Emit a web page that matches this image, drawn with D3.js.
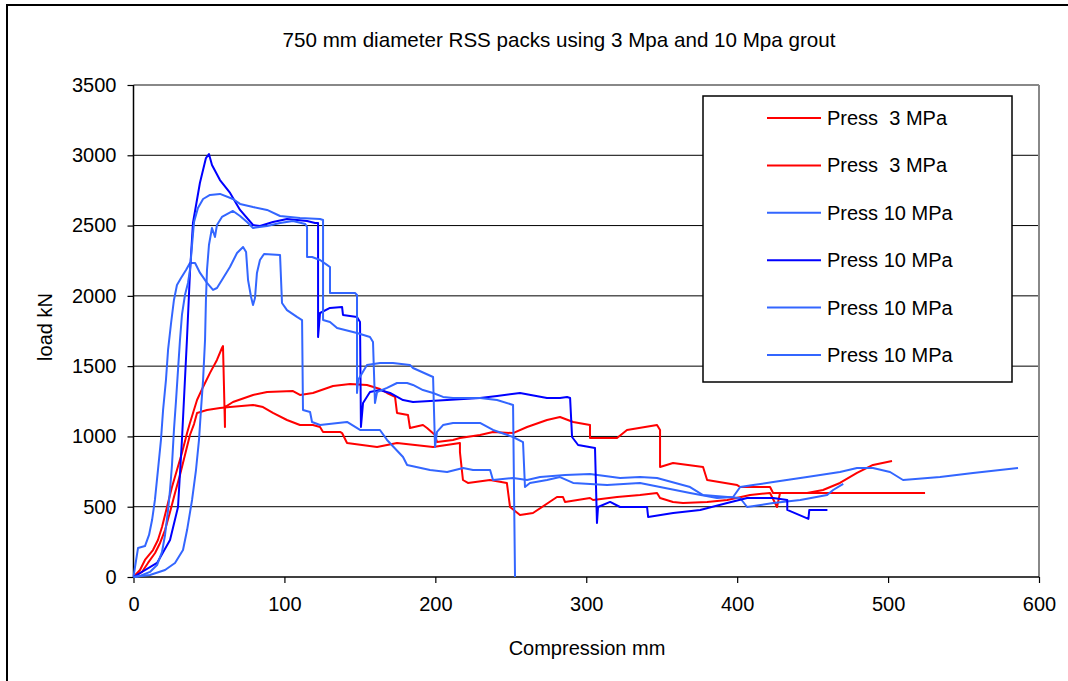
<!DOCTYPE html>
<html>
<head>
<meta charset="utf-8">
<script src="https://cdn.jsdelivr.net/npm/d3@7"></script>
<style>
  html, body { margin: 0; padding: 0; background: #fff; }
  svg text { font-family: "Liberation Sans", Arial, sans-serif; fill: #000; }
</style>
</head>
<body>
<svg id="chart" width="1068" height="681"></svg>
<script>
// ---------- data (compression mm, load kN) ----------
const title = "750 mm diameter RSS packs using 3 Mpa and 10 Mpa grout";
const xLabel = "Compression mm";
const yLabel = "load kN";
const xTicks = [0, 100, 200, 300, 400, 500, 600];
const yTicks = [0, 500, 1000, 1500, 2000, 2500, 3000, 3500];
const seriesNames = ["Press  3 MPa", "Press  3 MPa", "Press 10 MPa", "Press 10 MPa", "Press 10 MPa", "Press 10 MPa"];
const seriesColors = ["#ff0000", "#ff0000", "#3366ff", "#0000ff", "#3366ff", "#3366ff"];

const red1 = [[0,0],[4.3,50],[7.6,121],[12.9,192],[16.2,263],[18.9,356],[22.2,498],[25.5,640],[28.8,761],[32.1,882],[35.5,1024],[37.4,1096],[42.1,1259],[46.1,1352],[50.7,1452],[55.3,1544],[58.6,1629],[59.3,1643],[60.6,1067],[60.6,1209],[65.9,1245],[79.2,1295],[88.5,1316],[105.7,1323],[110.3,1295],[118.9,1309],[132.2,1359],[143.5,1373],[154.7,1366],[163.3,1337],[168.0,1309],[173.3,1281],[174.6,1167],[181.9,1152],[183.2,1060],[191.8,1081],[194.5,1060],[199.8,1010],[201.1,960],[211.7,975],[216.3,989],[229.6,1010],[238.2,1032],[251.5,1024],[260.8,1067],[274.0,1117],[282.6,1138],[291.3,1103],[302.5,1081],[302.5,989],[320.4,989],[327.0,1046],[346.9,1081],[348.9,1046],[348.9,783],[357.5,811],[377.4,783],[380.1,690],[400.0,654],[402.0,640],[421.8,640],[423.8,598],[524.5,598]];

const red2 = [[0,0],[5.6,36],[9.6,100],[14.3,171],[17.6,242],[20.9,334],[24.2,462],[27.5,597],[30.8,726],[34.1,868],[37.4,1010],[40.1,1088],[42.1,1167],[48.7,1188],[57.3,1202],[63.9,1209],[79.2,1224],[85.8,1209],[92.4,1167],[101.7,1117],[110.3,1081],[118.9,1081],[123.6,1067],[125.6,1032],[136.9,1032],[138.2,1024],[141.5,953],[161.4,925],[174.6,953],[198.5,925],[216.3,953],[216.3,889],[218.3,690],[221.6,669],[236.2,690],[247.4,669],[249.5,498],[256.1,441],[264.7,455],[280.6,569],[284.6,569],[285.9,534],[302.5,562],[304.5,548],[320.4,569],[335.6,583],[346.9,598],[348.9,562],[357.5,534],[364.1,526],[380.1,534],[393.4,548],[408.6,583],[421.8,598],[426.4,498],[428.4,598],[446.3,598],[456.9,619],[468.1,669],[479.4,740],[490.0,797],[502.6,825]];

const blue1 = [[0,0],[1.0,71],[3.0,206],[7.6,220],[10.3,299],[12.3,405],[14.2,548],[16.2,761],[18.2,975],[19.6,1188],[21.5,1401],[22.9,1615],[24.9,1807],[26.8,1971],[28.8,2077],[31.5,2127],[34.8,2184],[37.4,2234],[40.8,2234],[44.1,2163],[48.7,2092],[52.7,2042],[55.3,2056],[58.6,2113],[63.9,2205],[68.6,2305],[72.6,2348],[74.6,2312],[75.9,2113],[77.9,1992],[79.2,1935],[80.5,1985],[81.8,2163],[83.8,2255],[86.5,2298],[97.1,2291],[98.4,1949],[101.7,1899],[108.3,1850],[111.7,1828],[112.3,1188],[117.0,1174],[118.3,1103],[123.6,1081],[135.5,1096],[141.5,1103],[150.1,1046],[163.3,1046],[168.0,975],[178.6,854],[181.3,797],[196.5,761],[207.8,747],[218.4,775],[225.0,761],[236.3,761],[238.2,690],[251.5,704],[260.8,690],[269.4,711],[286.0,726],[302.5,733],[322.4,704],[335.6,711],[346.9,704],[368.8,640],[377.4,583],[401.9,562],[406.6,498],[423.9,526],[441.8,548],[459.6,583],[463.6,619],[470.3,662]];

const darkBlue = [[0,0],[15.6,100],[24.2,263],[29.5,498],[32.1,975],[35.4,1686],[37.4,2163],[39.4,2518],[44.0,2803],[48.0,2980],[50.0,3009],[52.0,2931],[57.3,2824],[64.0,2732],[70.6,2611],[79.2,2504],[83.8,2497],[92.4,2525],[101.7,2547],[115.0,2532],[120.3,2518],[122.3,2518],[122.3,1707],[123.6,1878],[130.2,1914],[138.2,1921],[138.8,1864],[148.1,1850],[150.1,1814],[150.7,1067],[152.1,1238],[156.7,1316],[163.3,1330],[170.0,1309],[178.6,1259],[185.2,1245],[207.8,1259],[229.6,1273],[240.9,1288],[256.1,1309],[274.0,1273],[282.6,1273],[287.3,1280],[289.3,1273],[290.6,996],[294.6,939],[305.8,918],[307.1,384],[307.8,498],[315.8,534],[322.4,498],[340.3,498],[341.0,427],[357.6,455],[375.5,477],[393.4,526],[406.6,562],[423.9,562],[433.2,548],[433.2,477],[447.2,413],[447.8,477],[459.8,477]];

const blue2 = [[0,0],[4.3,7],[10.9,36],[15.6,85],[18.9,178],[20.9,299],[22.9,477],[24.2,619],[25.5,797],[26.8,1046],[28.2,1259],[29.5,1473],[30.8,1686],[32.1,1864],[34.1,2006],[36.1,2092],[37.4,2184],[38.8,2362],[40.1,2525],[42.7,2625],[46.1,2689],[50.7,2718],[57.3,2725],[65.9,2689],[70.6,2654],[79.2,2632],[88.5,2611],[97.1,2568],[110.3,2554],[123.6,2547],[125.6,2540],[125.6,1828],[130.2,1814],[134.9,1771],[148.1,1736],[156.7,1707],[158.7,1672],[160.0,1238],[161.4,1316],[168.0,1345],[174.6,1380],[181.3,1380],[185.2,1366],[191.8,1330],[198.5,1309],[205.1,1281],[211.7,1273],[229.6,1273],[240.9,1259],[251.5,1224],[252.8,0]];

const blue3 = [[0,0],[10.9,14],[20.9,50],[27.5,100],[32.8,192],[35.5,334],[38.8,548],[41.4,761],[43.4,975],[44.7,1188],[46.1,1401],[47.4,1686],[48.0,1971],[48.7,2184],[50.0,2362],[52.0,2483],[54.0,2419],[55.3,2504],[58.6,2561],[65.9,2604],[70.6,2568],[75.2,2525],[79.2,2483],[88.5,2497],[97.1,2518],[105.7,2533],[113.8,2511],[115.0,2490],[115.0,2276],[118.3,2276],[123.6,2255],[128.2,2220],[130.2,2205],[130.2,2020],[146.8,2020],[148.1,2006],[148.1,1309],[148.8,1401],[154.7,1508],[163.3,1522],[171.9,1522],[183.2,1508],[185.2,1487],[198.5,1423],[199.8,925],[201.1,1032],[205.1,1081],[211.7,1096],[229.6,1096],[238.2,1046],[251.5,996],[258.1,960],[259.4,640],[262.7,669],[274.0,690],[282.6,711],[291.3,669],[313.8,654],[335.6,669],[348.9,640],[368.8,598],[386.7,562],[397.3,569],[402.0,640],[410.6,654],[423.9,676],[446.3,711],[468.1,747],[479.4,775],[490.0,775],[501.3,747],[509.9,690],[534.4,711],[556.3,740],[586.1,775]];

const seriesData = [red1, red2, blue1, darkBlue, blue2, blue3];

// ---------- layout ----------
const svg = d3.select("#chart");
const plot = { left: 133.5, right: 1039, top: 85, bottom: 577 };

svg.append("rect").attr("x", 0).attr("y", 0).attr("width", 1068).attr("height", 681).attr("fill", "#fff");
// outer chart frame (extends past the window on right/bottom)
svg.append("rect").attr("x", 7).attr("y", 5).attr("width", 1100).attr("height", 720)
  .attr("fill", "none").attr("stroke", "#000").attr("stroke-width", 2);

const x = d3.scaleLinear().domain([0, 600]).range([plot.left, plot.right]);
const y = d3.scaleLinear().domain([0, 3500]).range([plot.bottom, plot.top]);

// gridlines
svg.append("g").selectAll("line").data(yTicks.filter(d => d > 0)).join("line")
  .attr("x1", plot.left).attr("x2", plot.right)
  .attr("y1", d => y(d)).attr("y2", d => y(d))
  .attr("stroke", d => d === 3500 ? "#888" : "#000")
  .attr("stroke-width", d => d === 3500 ? 2 : 1);
// right plot border
svg.append("line").attr("x1", plot.right).attr("x2", plot.right)
  .attr("y1", plot.top).attr("y2", plot.bottom)
  .attr("stroke", "#888").attr("stroke-width", 2);

// axes
const xAxis = d3.axisBottom(x).tickValues(xTicks).tickSize(6).tickPadding(14).tickFormat(d3.format("d"));
const yAxis = d3.axisLeft(y).tickValues(yTicks).tickSize(6).tickPadding(11).tickFormat(d3.format("d"));
const gx = svg.append("g").attr("transform", `translate(0,${plot.bottom})`).call(xAxis);
const gy = svg.append("g").attr("transform", `translate(${plot.left},0)`).call(yAxis);
[gx, gy].forEach(g => {
  g.select(".domain").attr("stroke", "#000").attr("stroke-width", 1.5);
  g.selectAll(".tick line").attr("stroke", "#000").attr("stroke-width", 1.2);
  g.selectAll(".tick text").attr("font-size", 20).attr("font-family", "Liberation Sans, Arial, sans-serif").attr("fill", "#000");
});
gx.select(".domain").attr("d", `M${plot.left},0H${plot.right}`);
gy.select(".domain").attr("d", `M0,${plot.top}V${plot.bottom}`);

// series lines
const line = d3.line().x(d => x(d[0])).y(d => y(d[1]));
svg.append("g").selectAll("path").data(seriesData).join("path")
  .attr("d", d => line(d))
  .attr("fill", "none")
  .attr("stroke", (d, i) => seriesColors[i])
  .attr("stroke-width", 2)
  .attr("stroke-linejoin", "round");

// title and axis labels
svg.append("text").attr("x", 559).attr("y", 47).attr("text-anchor", "middle")
  .attr("font-size", 20.6).text(title);
svg.append("text").attr("x", 587).attr("y", 655).attr("text-anchor", "middle")
  .attr("font-size", 20).text(xLabel);
svg.append("text").attr("transform", "translate(52,327) rotate(-90)").attr("text-anchor", "middle")
  .attr("font-size", 20).text(yLabel);

// legend
const lg = svg.append("g");
lg.append("rect").attr("x", 703).attr("y", 96).attr("width", 309).attr("height", 286)
  .attr("fill", "#fff").attr("stroke", "#000").attr("stroke-width", 1.5);
const rowY = i => 118 + i * 47.4;
seriesNames.forEach((name, i) => {
  lg.append("line").attr("x1", 767).attr("x2", 821).attr("y1", rowY(i)).attr("y2", rowY(i))
    .attr("stroke", seriesColors[i]).attr("stroke-width", 2);
  lg.append("text").attr("x", 827).attr("y", rowY(i) + 7).attr("font-size", 20)
    .style("white-space", "pre").text(name);
});
</script>
</body>
</html>
